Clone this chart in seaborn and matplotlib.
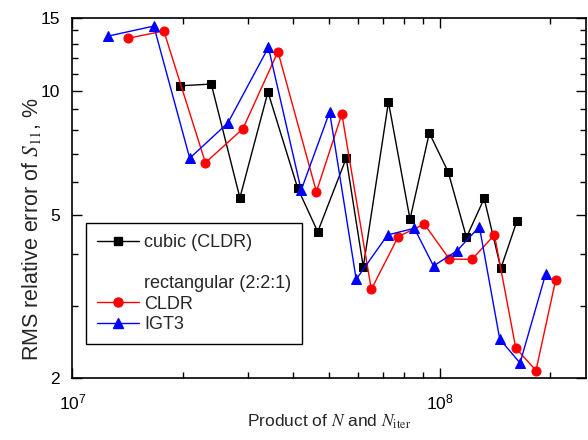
import numpy as np
import pandas as pd
import matplotlib
matplotlib.use("Agg")
import matplotlib.pyplot as plt
import matplotlib.ticker as mticker
from matplotlib.lines import Line2D
import seaborn as sns

# ==========================
# Data
# ==========================

cubic_x = [1.97e7, 2.39e7, 2.86e7, 3.41e7, 4.11e7, 4.66e7, 5.57e7, 6.20e7,
           7.26e7, 8.31e7, 9.38e7, 1.056e8, 1.184e8, 1.323e8, 1.469e8, 1.626e8]
cubic_y = [10.27, 10.37, 5.49, 9.92, 5.79, 4.54, 6.85, 3.73,
           9.38, 4.87, 7.89, 6.34, 4.40, 5.47, 3.70, 4.83]

cldr_x = [1.414e7, 1.775e7, 2.304e7, 2.915e7, 3.63e7, 4.62e7, 5.42e7, 6.52e7,
          7.72e7, 9.09e7, 1.063e8, 1.225e8, 1.411e8, 1.613e8, 1.831e8, 2.072e8]
cldr_y = [13.39, 13.95, 6.68, 8.08, 12.43, 5.68, 8.77, 3.29,
          4.42, 4.74, 3.90, 3.89, 4.46, 2.37, 2.09, 3.47]

igt3_x = [1.252e7, 1.667e7, 2.088e7, 2.654e7, 3.42e7, 4.20e7, 5.02e7, 5.93e7,
          7.22e7, 8.54e7, 9.63e7, 1.115e8, 1.284e8, 1.459e8, 1.657e8, 1.946e8]
igt3_y = [13.56, 14.34, 6.85, 8.35, 12.73, 5.73, 8.87, 3.48,
          4.46, 4.63, 3.75, 4.08, 4.67, 2.49, 2.18, 3.59]

y_ticks = [2, 5, 10, 15]

# ==========================
# Style
# ==========================

sns.set_style("ticks")
plt.rcParams["font.family"] = ["Liberation Sans", "DejaVu Sans"]
plt.rcParams["mathtext.fontset"] = "stix"
plt.rcParams["font.size"] = 12.5

fig = plt.figure(figsize=(5.88, 4.40), dpi=100)
ax = fig.add_axes([0.123, 0.140, 0.873, 0.819])

series = [
    (cubic_x, cubic_y, "black", "s", 5.5),
    (cldr_x, cldr_y, "red", "o", 6.5),
    (igt3_x, igt3_y, "blue", "^", 7.5),
]

for xs, ys, col, mk, ms in series:
    df = pd.DataFrame({"x": xs, "y": ys})
    sns.lineplot(
        data=df, x="x", y="y", ax=ax,
        color=col, marker=mk, markersize=ms,
        markeredgecolor=col, markerfacecolor=col,
        linewidth=1.0, sort=False, estimator=None,
    )

ax.set_xscale("log")
ax.set_yscale("log")
ax.set_xlim(1e7, 2.5e8)
ax.set_ylim(2, 15)

ax.yaxis.set_major_locator(mticker.FixedLocator(y_ticks))
ax.yaxis.set_major_formatter(mticker.FixedFormatter([str(t) for t in y_ticks]))
ax.yaxis.set_minor_locator(mticker.FixedLocator([3, 4, 6, 7, 8, 9, 11, 12, 13, 14]))
ax.yaxis.set_minor_formatter(mticker.NullFormatter())

ax.tick_params(which="both", direction="in", top=True, right=True,
               width=1.0, colors="black", labelsize=12.5)
ax.tick_params(which="major", length=7)
ax.tick_params(which="minor", length=4)
ax.tick_params(axis="x", which="major", pad=10)
ax.tick_params(axis="y", which="major", pad=9)

for s in ax.spines.values():
    s.set_linewidth(1.2)
    s.set_color("black")

ax.set_xlabel(r"Product of $N$ and $N_{\mathrm{iter}}$", fontsize=12.5)
ax.xaxis.set_label_coords(0.5, -0.095)
ax.set_ylabel(r"RMS relative error of $S_{11}$, %", fontsize=15.5)
ax.yaxis.set_label_coords(-0.058, 0.414)

# ==========================
# Legend
# ==========================

blank = Line2D([], [], linestyle="none", marker="none")
handles = [
    Line2D([], [], color="black", marker="s", markersize=5.5, lw=1.0),
    blank,
    blank,
    Line2D([], [], color="red", marker="o", markersize=6.5, lw=1.0),
    Line2D([], [], color="blue", marker="^", markersize=7.5, lw=1.0),
]
labels = ["cubic (CLDR)", " ", "rectangular (2:2:1)", "CLDR", "IGT3"]

leg = ax.legend(
    handles, labels,
    loc="lower left", bbox_to_anchor=(0.027, 0.095),
    borderaxespad=0, fancybox=False, frameon=True,
    edgecolor="black", framealpha=1, fontsize=13,
    handlelength=2.3, handletextpad=0.3, labelspacing=0.2,
    borderpad=0.6,
)
leg.get_frame().set_linewidth(1.0)

fig.savefig("out.png", dpi=100)
plt.close(fig)
